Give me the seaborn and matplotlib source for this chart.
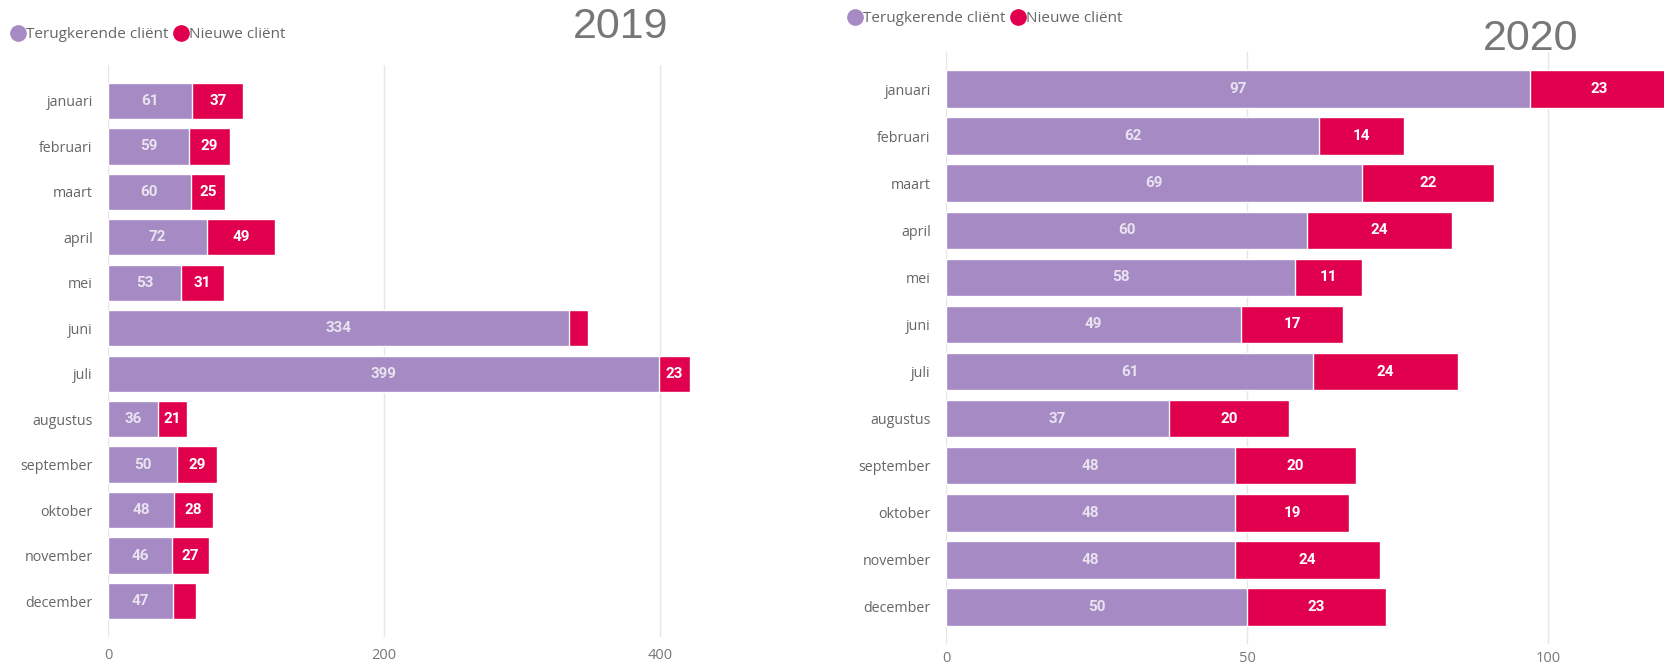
import numpy as np
import pandas as pd
import matplotlib
matplotlib.use("Agg")
import matplotlib.pyplot as plt
from matplotlib.lines import Line2D
import seaborn as sns

# --- data ---
months = ["januari", "februari", "maart", "april", "mei", "juni", "juli",
          "augustus", "september", "oktober", "november", "december"]
returning_2019 = [61, 59, 60, 72, 53, 334, 399, 36, 50, 48, 46, 47]
new_2019 = [37, 29, 25, 49, 31, 14, 23, 21, 29, 28, 27, 17]
returning_2020 = [97, 62, 69, 60, 58, 49, 61, 37, 48, 48, 48, 50]
new_2020 = [23, 14, 22, 24, 11, 17, 24, 20, 20, 19, 24, 23]

PURPLE = "#A68AC4"
RED = "#E0004D"
GREY = "#666666"

sns.set_theme(style="white")
plt.rcParams["font.family"] = ["Open Sans", "DejaVu Sans"]

fig = plt.figure(figsize=(16.65, 6.70), dpi=100)


def stacked_panel(rect, returning, new, xmax, ticks, tick_pad, label_min_px):
    ax = fig.add_axes(rect)
    df = pd.DataFrame({"month": months, "returning": returning, "new": new})
    df["total"] = df["returning"] + df["new"]

    # total first (red), then returning on top (purple) -> stacked look
    sns.barplot(data=df, x="total", y="month", color=RED, width=0.8,
                saturation=1, orient="h", ax=ax)
    sns.barplot(data=df, x="returning", y="month", color=PURPLE, width=0.8,
                saturation=1, orient="h", ax=ax)

    ax.set_xlim(0, xmax)
    pad = 0.79
    ax.set_ylim(len(months) - 1 + pad, -pad)
    ax.set_xticks(ticks)
    ax.xaxis.grid(True, color="#E6E6E6", lw=1)
    ax.set_axisbelow(True)
    for s in ax.spines.values():
        s.set_visible(False)
    ax.set_xlabel("")
    ax.set_ylabel("")
    ax.tick_params(axis="x", length=0, pad=tick_pad, labelsize=10.5, labelcolor="#777777")
    ax.tick_params(axis="y", length=0, pad=11, labelsize=10.3, labelcolor=GREY)

    # value labels, hidden when the segment is too narrow (like the original)
    px_per_unit = rect[2] * fig.get_figwidth() * fig.dpi / xmax
    lbl = dict(ha="center", va="center", fontsize=11, fontweight="bold",
               family=["Roboto", "DejaVu Sans"])
    for i, (r, n) in enumerate(zip(returning, new)):
        if r * px_per_unit > label_min_px:
            ax.text(r / 2, i, str(r), color="#E9E3F0", **lbl)
        if n * px_per_unit > label_min_px:
            ax.text(r + n / 2, i, str(n), color="white", **lbl)
    return ax


ax1 = stacked_panel([0.0649, 0.0493, 0.3647, 0.8537], returning_2019, new_2019,
                    440, [0, 200, 400], 7.8, 26)
ax2 = stacked_panel([0.5682, 0.0388, 0.4318, 0.8836], returning_2020, new_2020,
                    119.4, [0, 50, 100], 5.0, 26)

# legends
handles = [
    Line2D([], [], marker="o", ls="", color=PURPLE, markersize=11, label="Terugkerende cliënt"),
    Line2D([], [], marker="o", ls="", color=RED, markersize=11, label="Nieuwe cliënt"),
]
for x0, y0 in [(0.0, 0.948), (0.5025, 0.972)]:
    leg = fig.legend(handles=handles, loc="center left", bbox_to_anchor=(x0, y0),
                     ncol=2, frameon=False, fontsize=11, handletextpad=0.0,
                     columnspacing=0.35, handlelength=1.0, borderpad=0.2)
    for t in leg.get_texts():
        t.set_color(GREY)

# year titles
fig.text(621 / 1665, 1 - 27.5 / 670, "2019", ha="center", va="center",
         fontsize=31, color="#777777", family=["Liberation Sans", "DejaVu Sans"])
fig.text(1531 / 1665, 1 - 39 / 670, "2020", ha="center", va="center",
         fontsize=31, color="#777777", family=["Liberation Sans", "DejaVu Sans"])

fig.savefig("out.png", dpi=100)
